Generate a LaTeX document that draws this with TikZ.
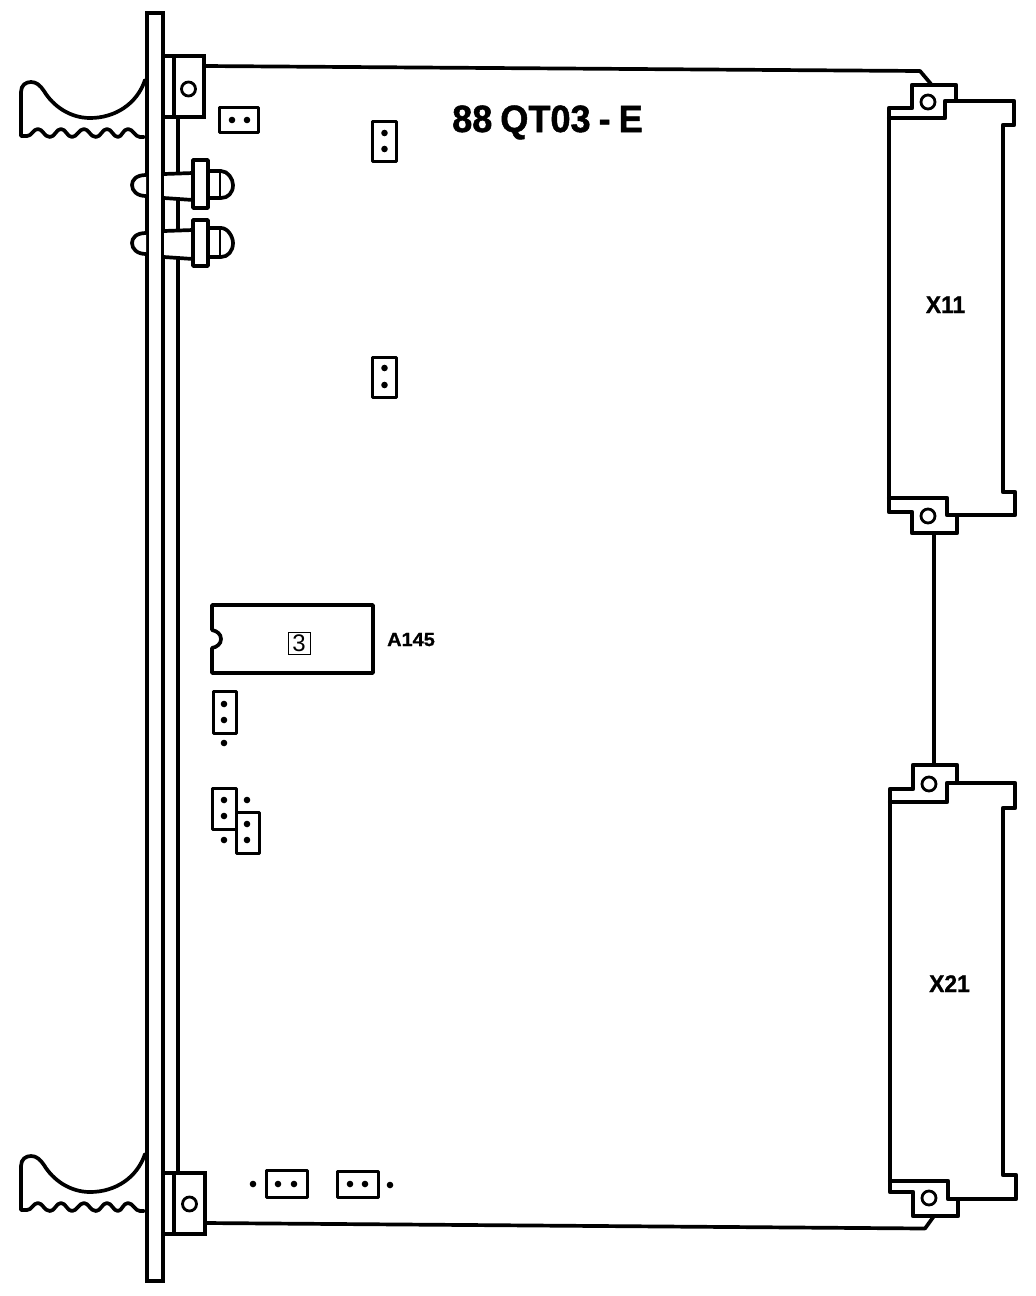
\documentclass[tikz,border=0pt]{standalone}
\usepackage{fontspec}
\setmainfont{Liberation Sans}
\tikzset{
  x=1pt,y=-1pt,
  ln/.style={draw=black,line width=3.7pt,line join=round,line cap=round},
  wht/.style={ln,fill=white},
  conn/.style={ln,line width=4.2pt},
  jmp/.style={draw=black,line width=3pt,line join=round},
  hole/.style={draw=black,line width=2.8pt,fill=white},
  pin/.style={fill=black,draw=none},
  lbl/.style={inner sep=0pt},
}
\newcommand{\pinat}[2]{\fill[pin] (#1,#2) circle[radius=3.3pt];}
\newcommand{\handle}[1]{%
  \begin{scope}[yshift=#1]
  \draw[ln] (144,137) -- (140,137)
    .. controls (135,137) and (133,129) .. (128,129)
    .. controls (123,129) and (122,137) .. (118,137)
    .. controls (113,137) and (112,129) .. (107,129)
    .. controls (102,129) and (101,137) .. (96,137)
    .. controls (90,137) and (89,129) .. (84,129)
    .. controls (79,129) and (77,137) .. (72,137)
    .. controls (67,137) and (66,129) .. (61,129)
    .. controls (56,129) and (55,137) .. (50,137)
    .. controls (44,137) and (43,129) .. (38,129)
    .. controls (33,129) and (32,136) .. (27,136)
    -- (21,136) -- (21,92)
    .. controls (21,85) and (26,82) .. (31,82)
    .. controls (36,82) and (40,85) .. (44,91)
    .. controls (53,106) and (70,118) .. (90,118)
    .. controls (115,118) and (137,104) .. (145,80);
  \end{scope}}
\newcommand{\led}[9]{%
  \draw[wht] (146,#2) .. controls (136,#2) and (132,#1-5) .. (132,#1)
     .. controls (132,#1+6) and (137,#3) .. (146,#3);
  \fill[white] (164,#4) -- (193,#4+2) -- (193,#5+2) -- (164,#5) -- cycle;
  \draw[ln] (164,#4) -- (193,#4-1);
  \draw[ln] (164,#5) -- (193,#5+2);
  \draw[wht] (208,#8) -- (221,#8) .. controls (228,#8) and (233,#1-6) .. (233,#1)
     .. controls (233,#1+8) and (228,#9) .. (221,#9) -- (208,#9);
  \draw[ln,line width=2.8pt] (220,#8) -- (220,#9);
  \draw[wht] (193,#6) rectangle (208,#7);
}
\begin{document}
\begin{tikzpicture}
\useasboundingbox (0,0) rectangle (1036,1296);
\fill[white] (0,0) rectangle (1036,1296);
% board edge
\draw[ln] (178,117) -- (178,1173);
\draw[ln] (204,66) -- (920,71) -- (931,84);
\draw[ln] (205,1223) -- (925,1228.5) -- (934,1216);
\draw[ln] (934,533) -- (934,765);
% faceplate
\draw[wht,line width=4.2pt,line join=miter] (147,13) rectangle (163,1281);
% handles
\handle{0}
\handle{-1074}
% brackets
\draw[wht,line join=miter] (163,56) rectangle (204,117);
\draw[ln] (174,56) -- (174,117);
\draw[hole] (188.5,89) circle[radius=7pt];
\draw[wht,line join=miter] (163,1173) rectangle (205,1234);
\draw[ln] (174,1173) -- (174,1234);
\draw[hole] (189.5,1204) circle[radius=7pt];
% LEDs
\led{185}{175}{196}{174}{198}{160}{208}{171}{198}
\led{243}{233}{254}{231}{257}{220}{266}{228}{257}
% connector X11
\draw[conn,fill=white] (889,108) -- (912,108) -- (912,85) -- (956,85) -- (956,101) -- (1014,101) -- (1014,125) -- (1003,125) -- (1003,492) -- (1015,492) -- (1015,515) -- (957,515) -- (957,533) -- (912,533) -- (912,512) -- (889,512) -- cycle;
\draw[conn] (889,118) -- (945,118) -- (945,101) -- (956,101);
\draw[conn] (889,498) -- (947,498) -- (947,515) -- (957,515);
\draw[hole] (928,102) circle[radius=7pt];
\draw[hole] (928,516) circle[radius=7pt];
% connector X21
\draw[conn,fill=white] (890,789) -- (913,789) -- (913,765) -- (957,765) -- (957,783) -- (1015,783) -- (1015,808) -- (1003,808) -- (1003,1175) -- (1016,1175) -- (1016,1199) -- (958,1199) -- (958,1216) -- (913,1216) -- (913,1192) -- (890,1192) -- cycle;
\draw[conn] (890,802) -- (947,802) -- (947,783) -- (957,783);
\draw[conn] (890,1181) -- (948,1181) -- (948,1199) -- (958,1199);
\draw[hole] (929,784) circle[radius=7pt];
\draw[hole] (929,1198) circle[radius=7pt];
% jumpers
\draw[jmp] (219,107) rectangle (258.5,132);
\pinat{232}{120}\pinat{247}{120}
\draw[jmp] (372,121) rectangle (396.5,161.5);
\pinat{384.5}{133}\pinat{384.5}{149}
\draw[jmp] (372,357) rectangle (396.5,397.5);
\pinat{384.5}{368}\pinat{384.5}{385}
\draw[jmp] (213,691) rectangle (236,733);
\pinat{224}{704}\pinat{224}{720}\pinat{224}{743}
\draw[jmp] (212,788) rectangle (236,829);
\pinat{224}{800}\pinat{224}{816}\pinat{247}{800}\pinat{224}{840}
\draw[jmp,fill=white] (236,812) rectangle (259,853);
\pinat{247}{824}\pinat{247}{840}
\draw[jmp] (266,1170) rectangle (307,1197);
\pinat{278}{1184}\pinat{294}{1184}\pinat{253}{1184}
\draw[jmp] (337,1171) rectangle (378,1197);
\pinat{350}{1184}\pinat{365}{1184}\pinat{390}{1185}
% chip
\draw[ln] (212,630) -- (212,605) -- (373,605) -- (373,673) -- (212,673) -- (212,648)
  .. controls (217,647) and (221,644) .. (221,639) .. controls (221,634) and (217,631) .. (212,630);
\node[draw=black,line width=0.9pt,minimum width=22pt,minimum height=22pt,inner sep=0pt,font=\fontsize{24}{24}\selectfont] (ref3) at (299,643) {3};
% text
\node[lbl,anchor=base west,font=\bfseries\fontsize{38}{38}\selectfont\addfontfeature{FakeBold=1.3,FakeStretch=0.95}] (title) at (452,132) {\spaceskip=8pt\relax 88 QT03 - E};
\node[lbl,anchor=base west,font=\bfseries\fontsize{19}{19}\selectfont\addfontfeature{FakeBold=1,FakeStretch=1.05}] (chip) at (387,646) {A145};
\node[lbl,anchor=base,font=\bfseries\fontsize{24}{24}\selectfont\addfontfeature{FakeBold=1,FakeStretch=0.95}] (x11) at (945.5,313) {X11};
\node[lbl,anchor=base,font=\bfseries\fontsize{24}{24}\selectfont\addfontfeature{FakeBold=1,FakeStretch=0.95}] (x21) at (949.5,992) {X21};
\end{tikzpicture}
\end{document}
